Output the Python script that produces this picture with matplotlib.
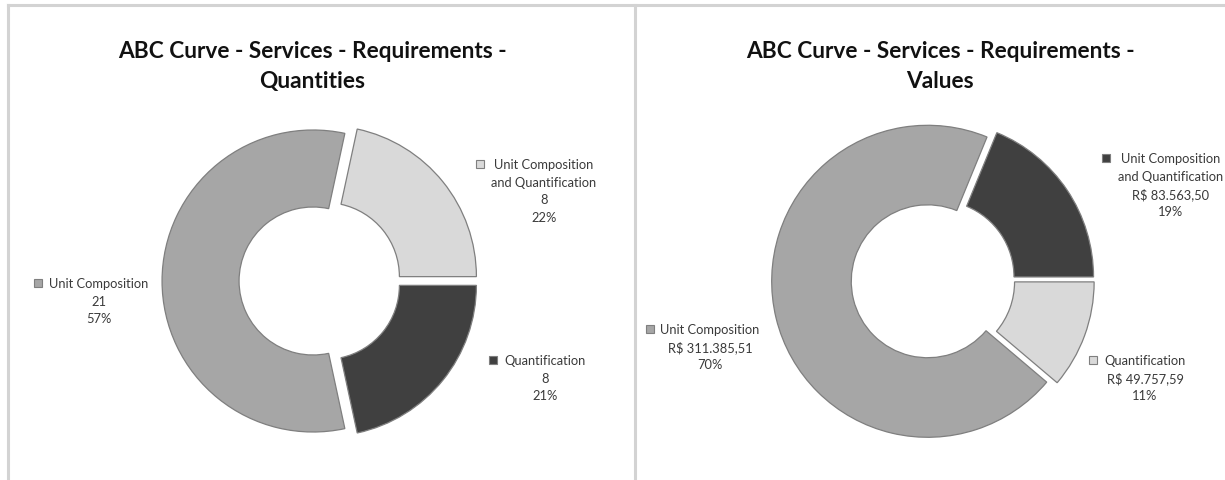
import matplotlib.pyplot as plt
from matplotlib.lines import Line2D

W, H = 1225, 481

# dati
names = ["Unit Composition\nand Quantification", "Quantification", "Unit Composition"]

left_title = "ABC Curve - Services - Requirements -\nQuantities"
left_values = [8, 8, 21]
left_pcts = [22, 21, 57]
left_colors = ["#d9d9d9", "#404040", "#a6a6a6"]

right_title = "ABC Curve - Services - Requirements -\nValues"
right_values = [83563.50, 49757.59, 311385.51]
right_pcts = [19, 11, 70]
right_colors = ["#404040", "#d9d9d9", "#a6a6a6"]


def brl(v):
    s = f"{v:,.2f}".replace(",", "X").replace(".", ",").replace("X", ".")
    return "R$ " + s


plt.rcParams['font.family'] = ['Lato', 'DejaVu Sans']

fig = plt.figure(figsize=(W / 100, H / 100), dpi=100)
ax = fig.add_axes([0, 0, 1, 1])

EDGE = "#7f7f7f"
TXT = "#3a3a3a"
LSP = 17.7


def donut(cx, cy, r, explode, values, colors):
    # explode in pie() e' in unita' dati, quindi scalato sul raggio
    start = 360 * values[0] / sum(values)
    ax.pie(values, radius=r, center=(cx, H - cy), startangle=start,
           counterclock=False, explode=[explode * r] * len(values), colors=colors,
           wedgeprops=dict(width=0.51 * r, edgecolor=EDGE, linewidth=0.9))


def label(tx, ty, mx, lines, color):
    ax.plot([mx], [H - ty], marker='s', markersize=5.5, color=color,
            markeredgecolor=EDGE, markeredgewidth=0.8)
    for i, ln in enumerate(lines):
        ax.text(tx, H - (ty + i * LSP), ln, ha='center', va='center',
                fontsize=9.3, color=TXT)


def title(cx, text):
    for i, ln in enumerate(text.split("\n")):
        ax.text(cx, H - (52 + i * 29.5), ln, ha='center', va='center',
                fontsize=16.3, fontweight='bold', color="#111111")


# pannello sinistro
donut(320, 282, 151, 0.046, left_values, left_colors)
title(312.5, left_title)
left_pos = [(544, 165, 479.5), (545, 361, 493), (98.5, 284, 37.5)]
for (tx, ty, mx), nm, v, p, c in zip(left_pos, names, left_values, left_pcts, left_colors):
    label(tx, ty, mx, nm.split("\n") + [str(v), f"{p}%"], c)

# pannello destro
donut(933, 281, 156, 0.035, right_values, right_colors)
title(940, right_title)
right_pos = [(1171, 159, 1106), (1145, 361, 1093), (710, 330, 650)]
for (tx, ty, mx), nm, v, p, c in zip(right_pos, names, right_values, right_pcts, right_colors):
    label(tx, ty, mx, nm.split("\n") + [brl(v), f"{p}%"], c)

ax.set_xlim(0, W)
ax.set_ylim(0, H)
ax.set_aspect('equal')
ax.axis('off')

# cornici
border = "#d3d3d3"
for xs, ys in [([8, W], [H - 6, H - 6]), ([8, 8], [0, H - 6]), ([635, 635], [0, H - 6])]:
    ax.add_line(Line2D(xs, ys, color=border, linewidth=2.2))

fig.savefig("out.png", dpi=100)
